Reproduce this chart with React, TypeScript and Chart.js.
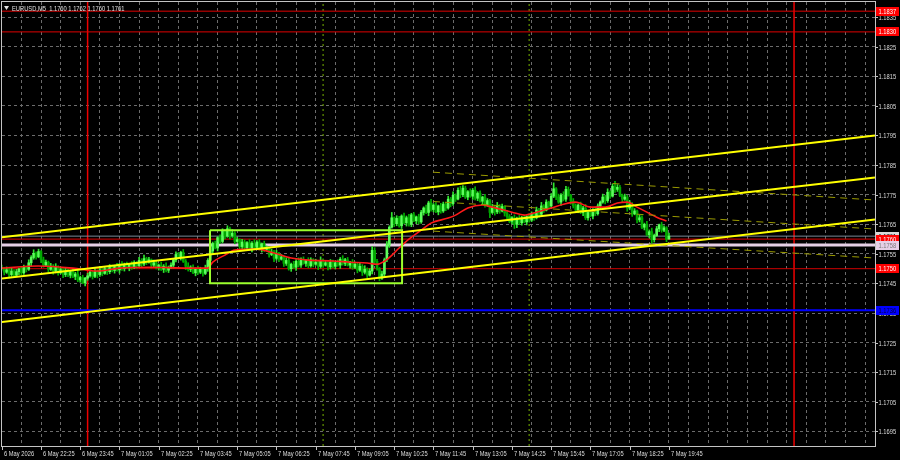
import { useEffect, useRef } from "react";
import { Chart, registerables } from "chart.js";

Chart.register(...registerables);

// ---------------- data ----------------
const titleText = "EURUSD,M5  1.1760 1.1762 1.1760 1.1761";

const xLabelBars = [0, 16, 32, 48, 64, 80, 96, 112, 128, 144, 160, 176, 192, 208, 224, 240, 256, 272];
const xLabels = [
  "6 May 2026", "6 May 22:25", "6 May 23:45", "7 May 01:05", "7 May 02:25", "7 May 03:45",
  "7 May 05:05", "7 May 06:25", "7 May 07:45", "7 May 09:05", "7 May 10:25", "7 May 11:45",
  "7 May 13:05", "7 May 14:25", "7 May 15:45", "7 May 17:05", "7 May 18:25", "7 May 19:45",
];

const yTickValues = [1.1695, 1.1705, 1.1715, 1.1725, 1.1735, 1.1745, 1.1755, 1.1765, 1.1775, 1.1785, 1.1795, 1.1805, 1.1815, 1.1825, 1.1835];
const yTickLabels = ["1.1695", "1.1705", "1.1715", "1.1725", "1.1735", "1.1745", "1.1755", "1.1765", "1.1775", "1.1785", "1.1795", "1.1805", "1.1815", "1.1825", "1.1835"];

const opens = [
  1.17505,1.17500,1.17488,1.17496,1.17480,1.17492,1.17478,1.17490,1.17499,1.17486,1.17505,1.17498,1.17520,1.17538,1.17552,1.17540,
  1.17558,1.17530,1.17512,1.17522,1.17498,1.17508,1.17492,1.17505,1.17486,1.17497,1.17480,1.17492,1.17478,1.17490,1.17474,1.17482,
  1.17462,1.17470,1.17452,1.17468,1.17476,1.17488,1.17474,1.17490,1.17480,1.17496,1.17484,1.17500,1.17490,1.17505,1.17494,1.17508,
  1.17496,1.17512,1.17500,1.17514,1.17503,1.17515,1.17505,1.17520,1.17510,1.17528,1.17516,1.17534,1.17522,1.17530,1.17512,1.17520,
  1.17504,1.17512,1.17498,1.17508,1.17495,1.17504,1.17512,1.17530,1.17548,1.17538,1.17555,1.17525,1.17508,1.17498,1.17505,1.17486,
  1.17500,1.17488,1.17498,1.17484,1.17502,1.17528,1.17560,1.17585,1.17570,1.17605,1.17592,1.17628,1.17610,1.17635,1.17612,1.17620,
  1.17592,1.17598,1.17575,1.17590,1.17570,1.17588,1.17568,1.17586,1.17572,1.17590,1.17566,1.17584,1.17565,1.17570,1.17548,1.17556,
  1.17535,1.17550,1.17532,1.17540,1.17518,1.17528,1.17500,1.17515,1.17505,1.17525,1.17512,1.17532,1.17518,1.17528,1.17510,1.17530,
  1.17515,1.17522,1.17508,1.17528,1.17512,1.17520,1.17506,1.17522,1.17508,1.17520,1.17512,1.17532,1.17518,1.17530,1.17512,1.17522,
  1.17505,1.17515,1.17495,1.17508,1.17488,1.17498,1.17478,1.17492,1.17562,1.17525,1.17500,1.17468,1.17482,1.17530,1.17580,1.17640,
  1.17672,1.17652,1.17670,1.17645,1.17678,1.17655,1.17672,1.17650,1.17682,1.17662,1.17675,1.17658,1.17690,1.17705,1.17690,1.17722,
  1.17700,1.17715,1.17692,1.17712,1.17695,1.17718,1.17705,1.17735,1.17720,1.17748,1.17735,1.17765,1.17750,1.17772,1.17742,1.17760,
  1.17745,1.17765,1.17738,1.17755,1.17728,1.17742,1.17715,1.17730,1.17690,1.17708,1.17692,1.17712,1.17695,1.17710,1.17688,1.17676,
  1.17660,1.17672,1.17650,1.17668,1.17655,1.17672,1.17658,1.17676,1.17664,1.17685,1.17672,1.17698,1.17684,1.17712,1.17698,1.17725,
  1.17712,1.17745,1.17770,1.17742,1.17725,1.17748,1.17735,1.17768,1.17748,1.17728,1.17712,1.17698,1.17715,1.17690,1.17705,1.17672,
  1.17690,1.17678,1.17700,1.17686,1.17712,1.17725,1.17742,1.17730,1.17758,1.17745,1.17778,1.17768,1.17775,1.17748,1.17735,1.17742,
  1.17705,1.17718,1.17685,1.17695,1.17665,1.17672,1.17640,1.17650,1.17615,1.17625,1.17598,1.17612,1.17635,1.17648,1.17630,1.17638,
  1.17600,
];

const highs = [
  1.17512,1.17504,1.17506,1.17502,1.17504,1.17497,1.17498,1.17502,1.17508,1.17512,1.17509,1.17530,1.17544,1.17564,1.17557,1.17566,
  1.17561,1.17539,1.17529,1.17526,1.17518,1.17514,1.17517,1.17510,1.17505,1.17500,1.17501,1.17499,1.17494,1.17500,1.17488,1.17494,
  1.17475,1.17478,1.17471,1.17485,1.17495,1.17492,1.17500,1.17496,1.17508,1.17501,1.17508,1.17503,1.17514,1.17512,1.17512,1.17518,
  1.17518,1.17524,1.17519,1.17522,1.17518,1.17524,1.17527,1.17524,1.17538,1.17534,1.17546,1.17539,1.17538,1.17533,1.17529,1.17527,
  1.17516,1.17522,1.17514,1.17520,1.17509,1.17520,1.17533,1.17557,1.17555,1.17559,1.17565,1.17531,1.17520,1.17510,1.17513,1.17503,
  1.17509,1.17505,1.17502,1.17512,1.17534,1.17572,1.17590,1.17593,1.17608,1.17614,1.17635,1.17632,1.17645,1.17641,1.17632,1.17625,
  1.17606,1.17601,1.17599,1.17597,1.17592,1.17598,1.17592,1.17598,1.17595,1.17598,1.17587,1.17593,1.17577,1.17574,1.17566,1.17562,
  1.17562,1.17555,1.17548,1.17543,1.17537,1.17535,1.17519,1.17525,1.17531,1.17537,1.17537,1.17540,1.17531,1.17537,1.17537,1.17534,
  1.17532,1.17528,1.17540,1.17533,1.17528,1.17523,1.17531,1.17529,1.17524,1.17530,1.17538,1.17544,1.17535,1.17538,1.17525,1.17531,
  1.17522,1.17519,1.17518,1.17514,1.17510,1.17503,1.17500,1.17575,1.17571,1.17532,1.17504,1.17492,1.17536,1.17592,1.17645,1.17690,
  1.17675,1.17679,1.17677,1.17682,1.17688,1.17678,1.17684,1.17687,1.17690,1.17678,1.17684,1.17697,1.17709,1.17715,1.17728,1.17734,
  1.17720,1.17723,1.17715,1.17721,1.17725,1.17722,1.17745,1.17741,1.17760,1.17753,1.17773,1.17778,1.17781,1.17779,1.17764,1.17770,
  1.17771,1.17777,1.17760,1.17763,1.17745,1.17751,1.17737,1.17734,1.17718,1.17714,1.17724,1.17717,1.17718,1.17713,1.17697,1.17683,
  1.17676,1.17682,1.17674,1.17680,1.17677,1.17680,1.17679,1.17685,1.17692,1.17689,1.17708,1.17704,1.17724,1.17717,1.17733,1.17728,
  1.17754,1.17790,1.17774,1.17752,1.17754,1.17760,1.17778,1.17776,1.17751,1.17737,1.17719,1.17719,1.17725,1.17711,1.17717,1.17695,
  1.17698,1.17703,1.17709,1.17719,1.17729,1.17752,1.17748,1.17770,1.17763,1.17786,1.17795,1.17784,1.17782,1.17752,1.17752,1.17748,
  1.17730,1.17723,1.17703,1.17698,1.17681,1.17679,1.17654,1.17660,1.17631,1.17637,1.17617,1.17643,1.17651,1.17657,1.17645,1.17642,
  1.17620,
];

const lows = [
  1.17495,1.17479,1.17484,1.17469,1.17474,1.17470,1.17475,1.17480,1.17479,1.17481,1.17489,1.17494,1.17509,1.17532,1.17532,1.17537,
  1.17520,1.17505,1.17507,1.17489,1.17494,1.17481,1.17486,1.17478,1.17483,1.17470,1.17473,1.17473,1.17469,1.17470,1.17463,1.17456,
  1.17454,1.17449,1.17442,1.17461,1.17471,1.17465,1.17470,1.17469,1.17474,1.17476,1.17481,1.17480,1.17483,1.17489,1.17485,1.17492,
  1.17485,1.17494,1.17492,1.17500,1.17493,1.17498,1.17500,1.17501,1.17506,1.17505,1.17510,1.17514,1.17519,1.17502,1.17505,1.17499,
  1.17495,1.17494,1.17487,1.17489,1.17487,1.17501,1.17502,1.17523,1.17533,1.17529,1.17521,1.17497,1.17492,1.17490,1.17483,1.17476,
  1.17481,1.17483,1.17475,1.17480,1.17491,1.17522,1.17552,1.17567,1.17560,1.17585,1.17587,1.17601,1.17606,1.17601,1.17606,1.17584,
  1.17589,1.17565,1.17568,1.17565,1.17561,1.17564,1.17557,1.17566,1.17564,1.17563,1.17556,1.17558,1.17560,1.17539,1.17544,1.17524,
  1.17529,1.17524,1.17529,1.17508,1.17511,1.17495,1.17491,1.17501,1.17494,1.17506,1.17504,1.17515,1.17508,1.17503,1.17505,1.17506,
  1.17511,1.17497,1.17502,1.17504,1.17509,1.17496,1.17499,1.17503,1.17499,1.17508,1.17501,1.17512,1.17510,1.17509,1.17502,1.17498,
  1.17500,1.17486,1.17491,1.17477,1.17482,1.17470,1.17475,1.17482,1.17518,1.17495,1.17459,1.17464,1.17471,1.17524,1.17572,1.17637,
  1.17642,1.17645,1.17640,1.17636,1.17651,1.17644,1.17644,1.17642,1.17659,1.17652,1.17651,1.17653,1.17681,1.17686,1.17679,1.17694,
  1.17692,1.17689,1.17682,1.17688,1.17690,1.17696,1.17701,1.17709,1.17714,1.17727,1.17732,1.17740,1.17743,1.17737,1.17733,1.17741,
  1.17734,1.17732,1.17730,1.17725,1.17718,1.17708,1.17710,1.17672,1.17686,1.17681,1.17686,1.17687,1.17692,1.17678,1.17669,1.17655,
  1.17651,1.17636,1.17639,1.17649,1.17647,1.17655,1.17648,1.17657,1.17659,1.17663,1.17668,1.17673,1.17678,1.17690,1.17695,1.17702,
  1.17705,1.17740,1.17733,1.17721,1.17714,1.17729,1.17727,1.17745,1.17718,1.17705,1.17693,1.17689,1.17686,1.17679,1.17666,1.17664,
  1.17675,1.17668,1.17679,1.17681,1.17703,1.17721,1.17719,1.17724,1.17737,1.17742,1.17758,1.17761,1.17743,1.17726,1.17731,1.17694,
  1.17699,1.17677,1.17682,1.17655,1.17658,1.17635,1.17631,1.17611,1.17604,1.17586,1.17590,1.17609,1.17625,1.17623,1.17625,1.17591,
  1.17600,
];

const closes = [
  1.17500,1.17488,1.17496,1.17480,1.17492,1.17478,1.17490,1.17499,1.17486,1.17505,1.17498,1.17520,1.17538,1.17552,1.17540,1.17558,
  1.17530,1.17512,1.17522,1.17498,1.17508,1.17492,1.17505,1.17486,1.17497,1.17480,1.17492,1.17478,1.17490,1.17474,1.17482,1.17462,
  1.17470,1.17452,1.17468,1.17476,1.17488,1.17474,1.17490,1.17480,1.17496,1.17484,1.17500,1.17490,1.17505,1.17494,1.17508,1.17496,
  1.17512,1.17500,1.17514,1.17503,1.17515,1.17505,1.17520,1.17510,1.17528,1.17516,1.17534,1.17522,1.17530,1.17512,1.17520,1.17504,
  1.17512,1.17498,1.17508,1.17495,1.17504,1.17512,1.17530,1.17548,1.17538,1.17555,1.17525,1.17508,1.17498,1.17505,1.17486,1.17500,
  1.17488,1.17498,1.17484,1.17502,1.17528,1.17560,1.17585,1.17570,1.17605,1.17592,1.17628,1.17610,1.17635,1.17612,1.17620,1.17592,
  1.17598,1.17575,1.17590,1.17570,1.17588,1.17568,1.17586,1.17572,1.17590,1.17566,1.17584,1.17565,1.17570,1.17548,1.17556,1.17535,
  1.17550,1.17532,1.17540,1.17518,1.17528,1.17500,1.17515,1.17505,1.17525,1.17512,1.17532,1.17518,1.17528,1.17510,1.17530,1.17515,
  1.17522,1.17508,1.17528,1.17512,1.17520,1.17506,1.17522,1.17508,1.17520,1.17512,1.17532,1.17518,1.17530,1.17512,1.17522,1.17505,
  1.17515,1.17495,1.17508,1.17488,1.17498,1.17478,1.17492,1.17562,1.17525,1.17500,1.17468,1.17482,1.17530,1.17580,1.17640,1.17672,
  1.17652,1.17670,1.17645,1.17678,1.17655,1.17672,1.17650,1.17682,1.17662,1.17675,1.17658,1.17690,1.17705,1.17690,1.17722,1.17700,
  1.17715,1.17692,1.17712,1.17695,1.17718,1.17705,1.17735,1.17720,1.17748,1.17735,1.17765,1.17750,1.17772,1.17742,1.17760,1.17745,
  1.17765,1.17738,1.17755,1.17728,1.17742,1.17715,1.17730,1.17690,1.17708,1.17692,1.17712,1.17695,1.17710,1.17688,1.17676,1.17660,
  1.17672,1.17650,1.17668,1.17655,1.17672,1.17658,1.17676,1.17664,1.17685,1.17672,1.17698,1.17684,1.17712,1.17698,1.17725,1.17712,
  1.17745,1.17770,1.17742,1.17725,1.17748,1.17735,1.17768,1.17748,1.17728,1.17712,1.17698,1.17715,1.17690,1.17705,1.17672,1.17690,
  1.17678,1.17700,1.17686,1.17712,1.17725,1.17742,1.17730,1.17758,1.17745,1.17778,1.17768,1.17775,1.17748,1.17735,1.17742,1.17705,
  1.17718,1.17685,1.17695,1.17665,1.17672,1.17640,1.17650,1.17615,1.17625,1.17598,1.17612,1.17635,1.17648,1.17630,1.17638,1.17600,
  1.17610,
];

// moving average (red line), read at sample bars
const maBars = [0,15,29,39,48,60,76,84,86,91,95,104,111,118,125,135,142,149,153,156,159,162,166,171,175,182,185,190,196,200,208,213,218,224,229,234,240,246,251,255,259,263,267,271];
const maValues = [
  1.17502,1.17509,1.17502,1.17492,1.17502,1.17505,1.17502,1.17502,1.17522,1.17546,
  1.17563,1.17566,1.17553,1.17536,1.17529,1.17526,1.17522,1.17519,1.17515,1.17525,
  1.17545,1.17570,1.17600,1.17630,1.17654,1.17671,1.17681,1.17705,1.17715,1.17708,
  1.17691,1.17681,1.17691,1.17705,1.17718,1.17725,1.17708,1.17708,1.17722,1.17725,
  1.17708,1.17691,1.17674,1.17661,
];

// horizontal levels
const levelPrices = [1.1837, 1.1830, 1.1761, 1.1760, 1.1758, 1.1750, 1.1736];
const levelLabels = ["1.1837", "1.1830", "1.1761", "1.1760", "1.1758", "1.1750", "1.1736"];

// vertical markers (bar index)
const midnightBars = [35, 323];
const sessionBars = [131, 215];

// trend channel (solid yellow): [start bar, end bar], prices at those bars
const channelBars = [0, 356];
const channelUpper = [1.17606, 1.1795];
const channelMiddle = [1.17467, 1.17808];
const channelLower = [1.1732, 1.17666];
// dashed olive channel
const dashBars = [175.8, 356];
const dashTop = [1.17826, 1.17732];
const dashMid = [1.17727, 1.17634];
const dashLow = [1.17627, 1.17536];
// green box
const boxBars = [84.9, 163.2];
const boxPrices = [1.1763, 1.17451];

// ---------------- styles ----------------
const X_MIN = 0.1;
const X_MAX = 356;
const Y_MIN = 1.16901;
const Y_MAX = 1.18401;
const FONT = '8px "Liberation Sans", Arial, sans-serif';
const NARROW = 0.72;
const levelLineColors = ["#e00000", "#e00000", "#7a8896", "#e00000", "#e6cfe6", "#d00000", "#0000ff"];
const levelLineWidths = [1, 1, 1, 1, 3, 1, 2];
const levelBoxBg = ["#ff0000", "#ff0000", "#d8d8d8", "#ff0000", "#e6cfe6", "#ff0000", "#0000ff"];
const levelBoxFg = ["#ffffff", "#ffffff", "#000000", "#ffffff", "#7a7a7a", "#ffffff", "#00003c"];

function narrowText(ctx: CanvasRenderingContext2D, text: string, x: number, y: number, color: string) {
  ctx.save();
  ctx.fillStyle = color;
  ctx.translate(x, y);
  ctx.scale(NARROW, 1);
  ctx.fillText(text, 0, 0);
  ctx.restore();
}

const mtPlugin = {
  id: "mtDecor",
  beforeDraw(chart: any) {
    const { ctx, width, height } = chart;
    ctx.save();
    ctx.fillStyle = "#000000";
    ctx.fillRect(0, 0, width, height);
    ctx.restore();
  },
  afterDraw(chart: any) {
    const { ctx, chartArea: a } = chart;
    const xs = chart.scales.x;
    const ys = chart.scales.y;
    ctx.save();
    ctx.strokeStyle = "#c4c4c4";
    ctx.lineWidth = 1;
    ctx.strokeRect(a.left - 0.5, a.top - 0.5, a.right - a.left + 1, a.bottom - a.top + 1);

    ctx.font = FONT;
    ctx.textAlign = "left";
    ctx.textBaseline = "middle";

    yTickValues.forEach((v, k) => {
      const py = Math.round(ys.getPixelForValue(v)) + 0.5;
      ctx.strokeStyle = "#c4c4c4";
      ctx.beginPath();
      ctx.moveTo(a.right, py);
      ctx.lineTo(a.right + 3, py);
      ctx.stroke();
      narrowText(ctx, yTickLabels[k], a.right + 3.5, py, "#dedede");
    });

    xLabelBars.forEach((b, k) => {
      const px = Math.round(xs.getPixelForValue(b)) + 0.5;
      ctx.strokeStyle = "#c4c4c4";
      ctx.beginPath();
      ctx.moveTo(px, a.bottom);
      ctx.lineTo(px, a.bottom + 4);
      ctx.stroke();
      narrowText(ctx, xLabels[k], Math.max(px + 1.5, 2), a.bottom + 7.5, "#dedede");
    });

    levelPrices.forEach((p, k) => {
      const cy = ys.getPixelForValue(p);
      ctx.fillStyle = levelBoxBg[k];
      ctx.fillRect(a.right + 1, Math.round(cy - 4.5), 23, 9);
      narrowText(ctx, levelLabels[k], a.right + 3.5, Math.round(cy - 4.5) + 4.5, levelBoxFg[k]);
    });

    ctx.fillStyle = "#e0e0e0";
    ctx.beginPath();
    ctx.moveTo(4, 6);
    ctx.lineTo(9, 6);
    ctx.lineTo(6.5, 10);
    ctx.closePath();
    ctx.fill();
    narrowText(ctx, titleText, 12, 8.5, "#e0e0e0");
    ctx.restore();
  },
};

function seg(x0: number, y0: number, x1: number, y1: number) {
  return [{ x: x0, y: y0 }, { x: x1, y: y1 }];
}

function lineDs(data: any[], color: string, width: number, order: number, dash: number[] = []) {
  return {
    type: "line" as const,
    data,
    borderColor: color,
    borderWidth: width,
    borderDash: dash,
    pointRadius: 0,
    fill: false,
    tension: 0,
    order,
  };
}

export default function App() {
  const ref = useRef<HTMLCanvasElement>(null);

  useEffect(() => {
    document.body.style.margin = "0";
    document.body.style.background = "#000";
    const bull = closes.map((c, i) => c >= opens[i]);
    const wickData = closes.map((_, i) => ({ x: i, y: [lows[i], highs[i]] }));
    const bodyData = closes.map((c, i) => ({ x: i, y: [opens[i], c] }));

    const datasets: any[] = [];
    datasets.push(lineDs(seg(channelBars[0], channelUpper[0], channelBars[1], channelUpper[1]), "#ffff00", 2, 0));
    datasets.push(lineDs(seg(channelBars[0], channelMiddle[0], channelBars[1], channelMiddle[1]), "#ffff00", 2, 0));
    datasets.push(lineDs(seg(channelBars[0], channelLower[0], channelBars[1], channelLower[1]), "#ffff00", 2, 0));
    datasets.push(lineDs(seg(dashBars[0], dashTop[0], dashBars[1], dashTop[1]), "#9a9a00", 1, 1, [7, 5]));
    datasets.push(lineDs(seg(dashBars[0], dashMid[0], dashBars[1], dashMid[1]), "#9a9a00", 1, 1, [7, 5]));
    datasets.push(lineDs(seg(dashBars[0], dashLow[0], dashBars[1], dashLow[1]), "#9a9a00", 1, 1, [7, 5]));
    datasets.push(
      lineDs(
        [
          { x: boxBars[0], y: boxPrices[0] },
          { x: boxBars[1], y: boxPrices[0] },
          { x: boxBars[1], y: boxPrices[1] },
          { x: boxBars[0], y: boxPrices[1] },
          { x: boxBars[0], y: boxPrices[0] },
        ],
        "#9cff2e",
        2,
        0
      )
    );
    datasets.push({
      ...lineDs(maBars.map((b, k) => ({ x: b, y: maValues[k] })), "#ff1a1a", 1.6, 2),
      cubicInterpolationMode: "monotone",
    });
    datasets.push({
      type: "bar",
      data: bodyData,
      backgroundColor: bull.map((b) => (b ? "#5cff5c" : "#00a800")),
      borderWidth: 0,
      barThickness: 2,
      minBarLength: 1,
      grouped: false,
      order: 3,
    });
    datasets.push({
      type: "bar",
      data: wickData,
      backgroundColor: bull.map((b) => (b ? "#2ee62e" : "#00b000")),
      borderWidth: 0,
      barThickness: 1,
      grouped: false,
      order: 4,
    });
    levelPrices.forEach((p, k) => {
      datasets.push(lineDs(seg(X_MIN, p, X_MAX, p), levelLineColors[k], levelLineWidths[k], 6));
    });
    midnightBars.forEach((b) => {
      datasets.push(lineDs(seg(b, Y_MIN, b, Y_MAX), "#ee0000", 1.5, 7));
    });
    sessionBars.forEach((b) => {
      datasets.push(lineDs(seg(b, Y_MIN, b, Y_MAX), "#78b400", 1, 7, [2, 3]));
    });

    const gridBars: number[] = [];
    for (let b = 8; b < X_MAX; b += 8) gridBars.push(b);

    const chart = new Chart(ref.current as HTMLCanvasElement, {
      type: "line",
      data: { datasets },
      options: {
        animation: false,
        responsive: false,
        maintainAspectRatio: false,
        events: [],
        layout: { padding: { left: 2, top: 2, right: 0, bottom: 0 } },
        plugins: { legend: { display: false }, tooltip: { enabled: false } },
        scales: {
          x: {
            type: "linear",
            min: X_MIN,
            max: X_MAX,
            offset: false,
            grid: { color: "#6c6c6c", lineWidth: 1, drawTicks: false, offset: false },
            border: { display: false, dash: [3, 3] },
            ticks: { display: false },
            afterBuildTicks: (s: any) => {
              s.ticks = gridBars.map((v) => ({ value: v }));
            },
            afterFit: (s: any) => {
              s.height = 14;
            },
          },
          y: {
            type: "linear",
            position: "right",
            min: Y_MIN,
            max: Y_MAX,
            beginAtZero: false,
            grid: { color: "#6c6c6c", lineWidth: 1, drawTicks: false },
            border: { display: false, dash: [3, 3] },
            ticks: { display: false },
            afterBuildTicks: (s: any) => {
              s.ticks = yTickValues.map((v) => ({ value: v }));
            },
            afterFit: (s: any) => {
              s.width = 25;
            },
          },
        },
      } as any,
      plugins: [mtPlugin],
    });
    return () => chart.destroy();
  }, []);

  return (
    <div style={{ position: "fixed", left: 0, top: 0, width: 900, height: 460, background: "#000" }}>
      <canvas ref={ref} width={900} height={460} style={{ display: "block", width: 900, height: 460 }} />
    </div>
  );
}
